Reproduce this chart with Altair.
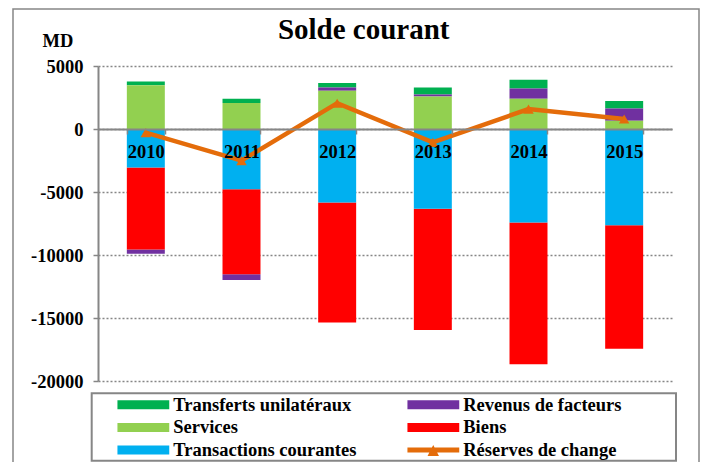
import altair as alt
import pandas as pd

# ---- data (MD) ----
years = ["2010", "2011", "2012", "2013", "2014", "2015"]
transferts = [290, 340, 370, 550, 690, 590]
revenus = [-340, -450, 260, 160, 815, 975]
services = [3480, 2060, 3030, 2580, 2400, 660]
biens = [-6490, -6755, -9525, -9610, -11245, -9820]
transactions = [-3065, -4780, -5835, -6335, -7420, -7630]
reserves = [-290, -2510, 2050, -1060, 1580, 790]

series_names = ["Transferts unilatéraux", "Revenus de facteurs", "Services",
                "Biens", "Transactions courantes", "Réserves de change"]
series_colors = ["#00B050", "#7030A0", "#92D050", "#FF0000", "#00B0F0", "#E46C0A"]
stack_order = {"Transactions courantes": 0, "Services": 1, "Biens": 2,
               "Revenus de facteurs": 3, "Transferts unilatéraux": 4}
y_ticks = [5000, 0, -5000, -10000, -15000, -20000]

FONT = "Liberation Serif"
GREY = "#868686"
ORANGE = "#E46C0A"

rows = []
for name, vals in [("Transferts unilatéraux", transferts),
                   ("Revenus de facteurs", revenus),
                   ("Services", services),
                   ("Biens", biens),
                   ("Transactions courantes", transactions)]:
    for yr, v in zip(years, vals):
        rows.append({"annee": yr, "serie": name, "valeur": v, "ordre": stack_order[name]})
bars_df = pd.DataFrame(rows)
line_df = pd.DataFrame({"annee": years, "valeur": reserves})
one_df = pd.DataFrame({"t": ["Solde courant"]})

W, H = 574, 315

RECT_PATH = "M-1,-0.173H1V0.173H-1Z"
LINE_PATH = "M-1,-0.096H1V0.096H-1Z M-0.22,0.23L0,-0.2L0.22,0.23Z"
shape_expr = ("datum.value === 'Réserves de change' ? '" + LINE_PATH + "' : '" + RECT_PATH + "'")

x_scale = alt.Scale(paddingInner=0.603, paddingOuter=0.3015)
y_scale = alt.Scale(domain=[-20000, 5000], nice=False)

x_axis = alt.Axis(orient="bottom", offset=-252, title=None, labelAngle=0,
                  labelFont=FONT, labelFontSize=18.5, labelFontWeight="bold",
                  labelColor="black", labelPadding=8, tickSize=5, tickWidth=1.5,
                  tickColor=GREY, domainColor=GREY, domainWidth=2,
                  tickBand="extent", grid=False, zindex=1)
y_axis = alt.Axis(values=y_ticks, title="MD", titleAngle=0, titleAlign="left",
                  titleBaseline="alphabetic", titleX=-56, titleY=-20,
                  titleFont=FONT, titleFontSize=18.5, titleFontWeight="bold",
                  titleColor="black",
                  labelFont=FONT, labelFontSize=18.5, labelFontWeight="bold",
                  labelColor="black", labelPadding=10, labelExpr="'' + datum.value",
                  tickSize=5, tickWidth=1.5, tickColor=GREY,
                  domainColor=GREY, domainWidth=2,
                  grid=True, gridColor=GREY, gridDash=[2, 2], gridWidth=1.5)

legend = alt.Legend(
    title=None, orient="none", legendX=19.25, legendY=328.7,
    direction="horizontal", columns=2, columnPadding=50, rowPadding=2.7,
    clipHeight=20, symbolSize=2704, symbolStrokeWidth=0,
    symbolType={"expr": shape_expr},
    symbolOffset=0, labelOffset=4, labelLimit=400, padding=0,
    labelFont=FONT, labelFontSize=18.5, labelFontWeight="bold", labelColor="black",
)

frame = alt.Chart(one_df).mark_rect(fillOpacity=0, stroke=GREY, strokeWidth=1.5).encode(
    x=alt.value(-85), x2=alt.value(601), y=alt.value(-57), y2=alt.value(420))

bars = alt.Chart(bars_df).mark_bar().encode(
    x=alt.X("annee:N", sort=years, scale=x_scale, axis=x_axis),
    y=alt.Y("valeur:Q", stack="zero", scale=y_scale, axis=y_axis),
    color=alt.Color("serie:N", scale=alt.Scale(domain=series_names, range=series_colors),
                    legend=legend),
    order=alt.Order("ordre:Q", sort="ascending"),
)

line = alt.Chart(line_df).mark_line(color=ORANGE, strokeWidth=4.5).encode(
    x=alt.X("annee:N", sort=years, scale=x_scale, axis=x_axis),
    y=alt.Y("valeur:Q", scale=y_scale, axis=y_axis),
)
points = alt.Chart(line_df).mark_point(shape="triangle-up", filled=True, size=110,
                                       color=ORANGE, opacity=1).encode(
    x=alt.X("annee:N", sort=years, scale=x_scale, axis=x_axis),
    y=alt.Y("valeur:Q", scale=y_scale, axis=y_axis),
)

title = alt.Chart(one_df).mark_text(font=FONT, fontSize=29, fontWeight="bold",
                                    color="black", align="center",
                                    baseline="alphabetic").encode(
    text="t:N", x=alt.value(265.7), y=alt.value(-26.7))

legend_box = alt.Chart(one_df).mark_rect(fillOpacity=0, stroke=GREY, strokeWidth=2).encode(
    x=alt.value(-6.3), x2=alt.value(578), y=alt.value(327.3), y2=alt.value(394.7))

chart = alt.layer(frame, bars, line, points, title, legend_box).properties(
    width=W, height=H,
    padding={"left": 90, "top": 58, "right": 28, "bottom": 81},
    autosize=alt.AutoSizeParams(type="none"),
).configure_view(stroke=None)

chart.save("out.html", embed_options={"renderer": "svg", "actions": False})
